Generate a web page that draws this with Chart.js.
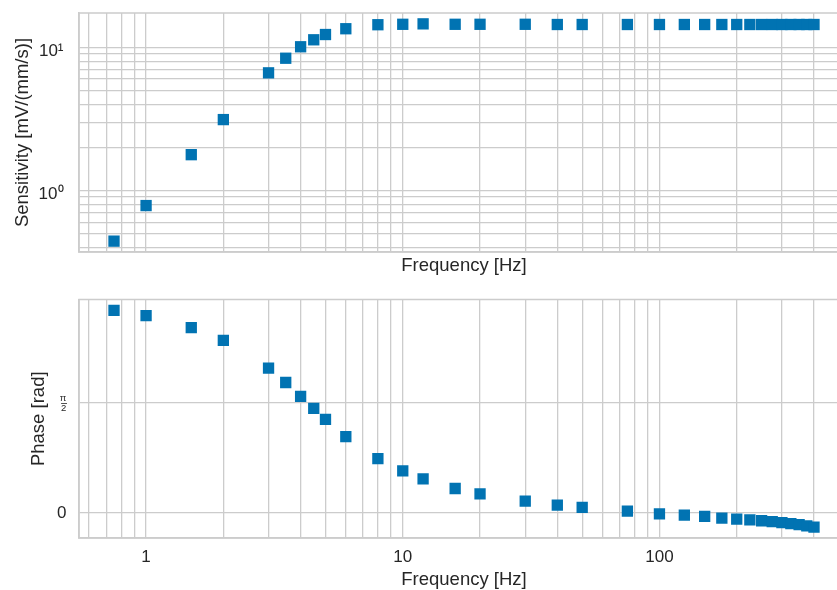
<!DOCTYPE html>
<html><head><meta charset="utf-8">
<script src="https://cdn.jsdelivr.net/npm/chart.js@4.4.0/dist/chart.umd.min.js"></script>
<style>
html,body{margin:0;padding:0;overflow:hidden;background:#fff;width:837px;height:590px;}
#wrap{position:relative;width:849px;height:590px;}
canvas{position:absolute;left:0;}
</style></head><body>
<div id="wrap">
<canvas id="c1" width="849" height="290" style="top:0px"></canvas>
<canvas id="c2" width="849" height="300" style="top:290px"></canvas>
</div>
<script>
// ---- data ----
const frequency = [0.75, 1, 1.5, 2, 3, 3.5, 4, 4.5, 5, 6, 8, 10, 12, 16, 20, 30, 40, 50, 75, 100,
                   125, 150, 175, 200, 225, 250, 275, 300, 325, 350, 375, 400];
const sensitivity = [0.443, 0.785, 1.78, 3.13, 6.64, 8.4, 10.1, 11.3, 12.3, 13.5, 14.4, 14.5, 14.6, 14.5,
                     14.5, 14.5, 14.45, 14.45, 14.45, 14.45, 14.45, 14.45, 14.45, 14.45, 14.45, 14.45,
                     14.45, 14.45, 14.45, 14.45, 14.45, 14.45];
const phase = [2.899, 2.823, 2.652, 2.470, 2.071, 1.866, 1.666, 1.495, 1.338, 1.091, 0.777, 0.600,
               0.486, 0.348, 0.271, 0.167, 0.110, 0.077, 0.024, -0.014, -0.033, -0.051, -0.076,
               -0.090, -0.100, -0.113, -0.127, -0.140, -0.155, -0.170, -0.187, -0.205];

// ---- tick labels ----
const xLabelValues = [1, 10, 100];
const xLabelTexts = ['1', '10', '100'];
const sensLabelValues = [1, 10];
const sensLabelTexts = ['10\u2070', '10\u00B9'];
const phaseTickValues = [0, Math.PI / 2];
const phaseTickTexts = ['0', ['\u03C0', '2']];

const xTitle = 'Frequency [Hz]';
const sensTitle = 'Sensitivity [mV/(mm/s)]';
const phaseTitle = 'Phase [rad]';

// ---- styling ----
const FONT = "'Liberation Sans', Arial, sans-serif";
const TXT = '#262626';
const GRID = '#cccccc';
const MARK = '#0173b2';

function logDecadeGrid(lo, hi) {
  const out = [];
  for (let e = Math.floor(Math.log10(lo)); e <= Math.ceil(Math.log10(hi)); e++) {
    for (let m = 1; m <= 9; m++) {
      const v = m * Math.pow(10, e);
      if (v >= lo && v <= hi) out.push(v);
    }
  }
  return out;
}
function logLimits(arr) {
  const a = Math.log10(Math.min(...arr)), b = Math.log10(Math.max(...arr));
  const m = 0.05 * (b - a);
  return [Math.pow(10, a - m), Math.pow(10, b + m)];
}
function linLimits(arr) {
  const a = Math.min(...arr), b = Math.max(...arr);
  const m = 0.05 * (b - a);
  return [a - m, b + m];
}
function labelFor(values, texts, v) {
  for (let i = 0; i < values.length; i++) {
    if (Math.abs(values[i] - v) < 1e-9 * Math.max(1, Math.abs(v))) return texts[i];
  }
  return '';
}

const [xMin, xMax] = logLimits(frequency);
const [sMin, sMax] = logLimits(sensitivity);
const [pMin, pMax] = linLimits(phase);
const xGrid = logDecadeGrid(xMin, xMax);
const sGrid = logDecadeGrid(sMin, sMax);

const framePlugin = {
  id: 'frame',
  beforeDatasetsDraw(chart) {
    const {ctx, chartArea: a} = chart;
    ctx.save();
    ctx.strokeStyle = GRID;
    ctx.lineWidth = 1.5;
    ctx.strokeRect(a.left, a.top, a.right - a.left, a.bottom - a.top);
    ctx.restore();
  }
};

const fracBarPlugin = {
  id: 'fracbar',
  afterDraw(chart) {
    const ys = chart.scales.y;
    const y = Math.round(ys.getPixelForValue(Math.PI / 2)) + 0.5;
    const xr = chart.chartArea.left - 12.3;
    const ctx = chart.ctx;
    ctx.save();
    ctx.strokeStyle = TXT;
    ctx.lineWidth = 0.8;
    ctx.beginPath();
    ctx.moveTo(xr - 5.6, y);
    ctx.lineTo(xr + 0.3, y);
    ctx.stroke();
    ctx.restore();
  }
};

function xScale(showTicks, height, titlePad) {
  return {
    type: 'logarithmic',
    min: xMin, max: xMax,
    afterBuildTicks: (s) => { s.ticks = xGrid.map(v => ({value: v})); },
    afterFit: (s) => { s.height = height; s.paddingLeft = 0; s.paddingRight = 0; },
    grid: {color: GRID, lineWidth: 1.3, drawTicks: false},
    border: {color: GRID, width: 1.5},
    ticks: {
      display: showTicks, autoSkip: false, maxRotation: 0, minRotation: 0, padding: 9,
      color: TXT, font: {family: FONT, size: 17},
      callback: (v) => labelFor(xLabelValues, xLabelTexts, v)
    },
    title: {display: true, text: xTitle, color: TXT,
            font: {family: FONT, size: 18.5, lineHeight: 1},
            padding: {top: 0, bottom: titlePad}}
  };
}

Chart.defaults.animation = false;

new Chart(document.getElementById('c1'), {
  type: 'scatter',
  data: {datasets: [{
    data: frequency.map((f, i) => ({x: f, y: sensitivity[i]})),
    pointStyle: 'rect', pointRadius: 8, pointHoverRadius: 8,
    backgroundColor: MARK, borderWidth: 0
  }]},
  options: {
    responsive: false, maintainAspectRatio: false, devicePixelRatio: 1,
    layout: {autoPadding: false, padding: {top: 13, left: 0, right: 0, bottom: 0}},
    plugins: {legend: {display: false}, tooltip: {enabled: false}},
    scales: {
      x: xScale(false, 38, 14.45),
      y: {
        type: 'logarithmic', min: sMin, max: sMax,
        afterBuildTicks: (s) => { s.ticks = sGrid.map(v => ({value: v})); },
        afterFit: (s) => { s.width = 79; s.paddingTop = 0; s.paddingBottom = 0; },
        grid: {color: GRID, lineWidth: 1.3, drawTicks: false},
        border: {color: GRID, width: 1.5},
        ticks: {autoSkip: false, padding: 15.5, labelOffset: 3.5, color: TXT,
                font: {family: FONT, size: 17},
                callback: (v) => labelFor(sensLabelValues, sensLabelTexts, v)},
        title: {display: true, text: sensTitle, color: TXT,
                font: {family: FONT, size: 18.5, lineHeight: 1},
                padding: {top: 13.75, bottom: 0}}
      }
    }
  },
  plugins: [framePlugin]
});

new Chart(document.getElementById('c2'), {
  type: 'scatter',
  data: {datasets: [{
    data: frequency.map((f, i) => ({x: f, y: phase[i]})),
    pointStyle: 'rect', pointRadius: 8, pointHoverRadius: 8,
    backgroundColor: MARK, borderWidth: 0
  }]},
  options: {
    responsive: false, maintainAspectRatio: false, devicePixelRatio: 1,
    layout: {autoPadding: false, padding: {top: 9.5, left: 0, right: 0, bottom: 0}},
    plugins: {legend: {display: false}, tooltip: {enabled: false}},
    scales: {
      x: xScale(true, 52, 0.45),
      y: {
        type: 'linear', min: pMin, max: pMax,
        afterBuildTicks: (s) => { s.ticks = phaseTickValues.map(v => ({value: v})); },
        afterFit: (s) => { s.width = 79; s.paddingTop = 0; s.paddingBottom = 0; },
        grid: {color: GRID, lineWidth: 1.3, drawTicks: false},
        border: {color: GRID, width: 1.5},
        ticks: {autoSkip: false, padding: 12.6, color: TXT,
                font: (c) => (c.tick && Math.abs(c.tick.value - Math.PI / 2) < 1e-9)
                  ? {family: FONT, size: 9.5, lineHeight: 1.05}
                  : {family: FONT, size: 17},
                callback: (v) => labelFor(phaseTickValues, phaseTickTexts, v)},
        title: {display: true, text: phaseTitle, color: TXT,
                font: {family: FONT, size: 18.5, lineHeight: 1},
                padding: {top: 29.25, bottom: 0}}
      }
    }
  },
  plugins: [framePlugin, fracBarPlugin]
});
</script>
</body></html>
